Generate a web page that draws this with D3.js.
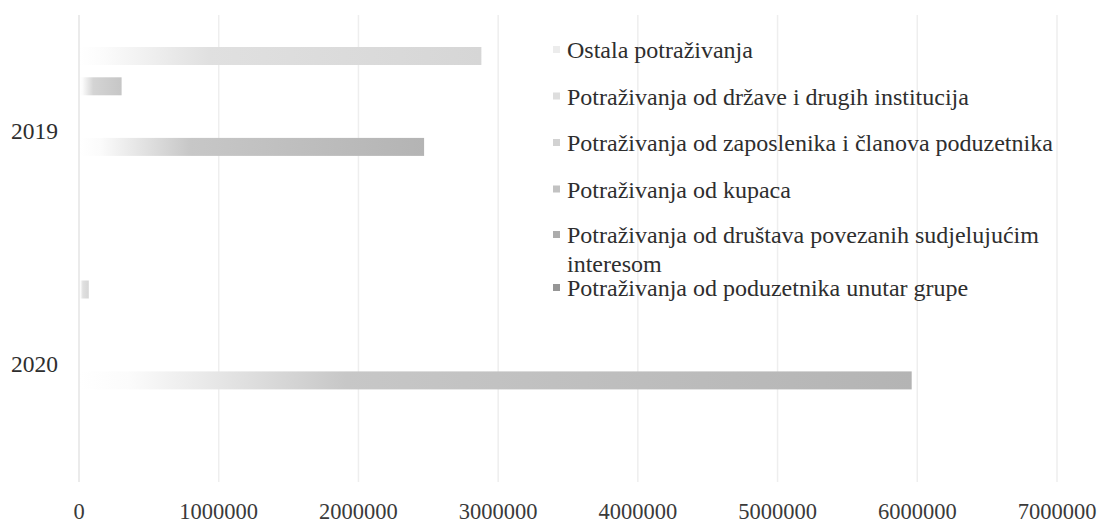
<!DOCTYPE html>
<html>
<head>
<meta charset="utf-8">
<script src="https://cdn.jsdelivr.net/npm/d3@7"></script>
<style>
  html, body { margin: 0; padding: 0; background: #fff; }
  svg { display: block; }
</style>
</head>
<body>
<div id="chart"></div>
<script>
// DATA //
var categories = [ '2019', '2020' ];
var seriesNames = [
	'Ostala potraživanja',
	'Potraživanja od države i drugih institucija',
	'Potraživanja od zaposlenika i članova poduzetnika',
	'Potraživanja od kupaca',
	'Potraživanja od društava povezanih sudjelujućim interesom',
	'Potraživanja od poduzetnika unutar grupe'
];
// one value per category (2019, 2020)
var ostala = [ 2880000, 70000 ];
var drzava = [ 305000, 0 ];
var zaposlenici = [ 0, 0 ];
var kupci = [ 2470000, 5960000 ];
var drustva = [ 0, 0 ];
var grupa = [ 0, 0 ];
var seriesValues = [ ostala, drzava, zaposlenici, kupci, drustva, grupa ];
var xTicks = [ 0, 1000000, 2000000, 3000000, 4000000, 5000000, 6000000, 7000000 ];

// gradient end shades per series (grey scan of the original)
var shades = [ '#d6d6d6', '#c6c6c6', '#bdbdbd', '#b4b4b4', '#a0a0a0', '#8a8a8a' ];
var legendShades = [ '#ececec', '#dedede', '#d2d2d2', '#c2c2c2', '#acacac', '#969696' ];

var FONT = "'Liberation Serif', 'Times New Roman'";
var W = 1101, H = 523;
var plot = { left: 79, right: 1057, top: 15, bottom: 482 };

var svg = d3.select( '#chart' ).append( 'svg' )
	.attr( 'width', W )
	.attr( 'height', H );

var defs = svg.append( 'defs' );
shades.forEach( function ( c, i ) {
	var g = defs.append( 'linearGradient' )
		.attr( 'id', 'grad' + i )
		.attr( 'x1', '0' ).attr( 'x2', '1' ).attr( 'y1', '0' ).attr( 'y2', '0' );
	g.append( 'stop' ).attr( 'offset', '0' ).attr( 'stop-color', '#ffffff' );
	g.append( 'stop' ).attr( 'offset', '0.06' ).attr( 'stop-color', '#fbfbfb' );
	g.append( 'stop' ).attr( 'offset', '0.32' ).attr( 'stop-color', d3.interpolateRgb( '#ffffff', c )( 0.75 ) );
	g.append( 'stop' ).attr( 'offset', '1' ).attr( 'stop-color', c );
});

var x = d3.scaleLinear()
	.domain( [ 0, 7000000 ] )
	.range( [ plot.left, plot.right ] );

var y = d3.scaleBand()
	.domain( categories )
	.range( [ plot.top, plot.bottom ] );

var ySub = d3.scaleBand()
	.domain( d3.range( seriesNames.length ) )
	.range( [ 0, y.bandwidth() ] )
	.paddingInner( 0.406 )
	.paddingOuter( 1.056 );

// gridlines
svg.append( 'g' )
	.selectAll( 'line' )
	.data( xTicks )
	.enter().append( 'line' )
	.attr( 'x1', function ( d ) { return x( d ); } )
	.attr( 'x2', function ( d ) { return x( d ); } )
	.attr( 'y1', plot.top )
	.attr( 'y2', plot.bottom )
	.attr( 'stroke', function ( d ) { return d === 0 ? '#e4e4e4' : '#eeeeee'; } )
	.attr( 'stroke-width', 1.5 );

// x tick labels
svg.append( 'g' )
	.selectAll( 'text' )
	.data( xTicks )
	.enter().append( 'text' )
	.attr( 'x', function ( d ) { return x( d ); } )
	.attr( 'y', 519 )
	.attr( 'text-anchor', 'middle' )
	.attr( 'fill', '#3a3a3a' )
	.style( 'font-family', FONT )
	.style( 'font-size', '22.5px' )
	.text( function ( d ) { return d; } );

// category labels
svg.append( 'g' )
	.selectAll( 'text' )
	.data( categories )
	.enter().append( 'text' )
	.attr( 'x', 58 )
	.attr( 'y', function ( d ) { return y( d ) + y.bandwidth() / 2 + 7; } )
	.attr( 'text-anchor', 'end' )
	.attr( 'fill', '#2e2e2e' )
	.style( 'font-family', FONT )
	.style( 'font-size', '23.5px' )
	.text( function ( d ) { return d; } );

// bars
var bars = [];
seriesValues.forEach( function ( vals, s ) {
	vals.forEach( function ( v, c ) {
		if ( v > 0 ) {
			bars.push( { s: s, cat: categories[ c ], v: v } );
		}
	});
});

svg.append( 'g' )
	.selectAll( 'rect' )
	.data( bars )
	.enter().append( 'rect' )
	.attr( 'x', x( 0 ) + 1 )
	.attr( 'y', function ( d ) { return y( d.cat ) + ySub( d.s ); } )
	.attr( 'width', function ( d ) { return x( d.v ) - x( 0 ) - 1; } )
	.attr( 'height', ySub.bandwidth() )
	.attr( 'fill', function ( d ) { return 'url(#grad' + d.s + ')'; } );

// legend
var legendX = 557, textX = 567;
var baselines = [ 58, 104.5, 151, 197.5, 243, 296 ];
var legend = svg.append( 'g' );
seriesNames.forEach( function ( name, i ) {
	legend.append( 'rect' )
		.attr( 'x', legendX - 4 )
		.attr( 'y', baselines[ i ] - 12 )
		.attr( 'width', 7 )
		.attr( 'height', 7 )
		.attr( 'fill', legendShades[ i ] );
	var t = legend.append( 'text' )
		.attr( 'x', textX )
		.attr( 'y', baselines[ i ] )
		.attr( 'fill', '#2e2e2e' )
		.style( 'font-family', FONT )
		.style( 'font-size', '24px' );
	// wrap long labels
	var words = name.split( ' ' ), line = [], lines = [];
	var probe = t.append( 'tspan' );
	words.forEach( function ( w ) {
		line.push( w );
		probe.text( line.join( ' ' ) );
		if ( probe.node().getComputedTextLength() > 505 && line.length > 1 ) {
			line.pop();
			lines.push( line.join( ' ' ) );
			line = [ w ];
		}
	});
	lines.push( line.join( ' ' ) );
	probe.remove();
	lines.forEach( function ( l, k ) {
		t.append( 'tspan' )
			.attr( 'x', textX )
			.attr( 'dy', k === 0 ? 0 : 29 )
			.text( l );
	});
});
</script>
</body>
</html>
